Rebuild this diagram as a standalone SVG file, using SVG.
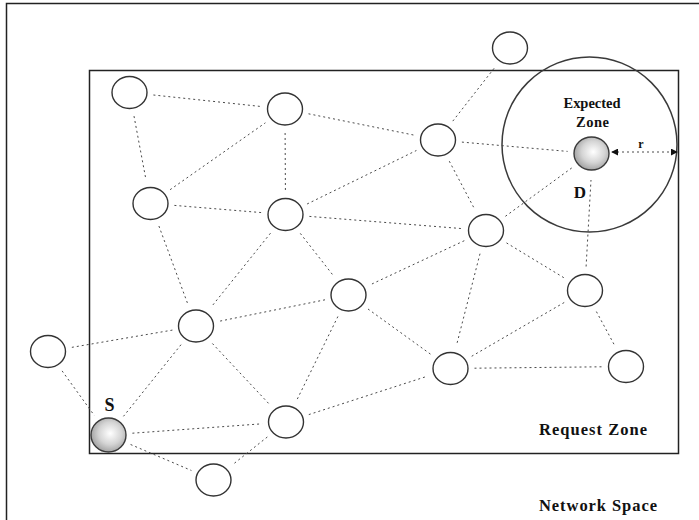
<svg xmlns="http://www.w3.org/2000/svg" width="699" height="520" viewBox="0 0 699 520">
  <defs>
    <radialGradient id="shade" cx="55%" cy="45%" r="60%">
      <stop offset="0" stop-color="#ffffff"/>
      <stop offset="0.55" stop-color="#d4d4d4"/>
      <stop offset="1" stop-color="#9a9a9a"/>
    </radialGradient>
    <marker id="tip" viewBox="0 0 8 8" refX="7" refY="4" markerWidth="7" markerHeight="7" orient="auto-start-reverse" markerUnits="userSpaceOnUse">
      <path d="M0,0 L8,4 L0,8 Z" fill="#111"/>
    </marker>
  </defs>
  <style>
    .frame { fill: none; stroke: #222; stroke-width: 1.5; }
    .zone { fill: none; stroke: #3a3a3a; stroke-width: 1.5; }
    .node { fill: #fff; stroke: #333; stroke-width: 1.4; }
    .key { fill: url(#shade); stroke: #3a3a3a; stroke-width: 1.4; }
    .link { stroke: #4a4a4a; stroke-width: 1; stroke-dasharray: 2 3; fill: none; }
    .label { font-family: "Liberation Serif", "Times New Roman", serif; font-weight: bold; fill: #111; text-anchor: middle; }
  </style>

  <rect width="699" height="520" fill="#fff"/>

  <!-- network space border (open to the right and bottom) -->
  <path class="frame" d="M6.5,520 V3.5 H699"/>
  <!-- request zone -->
  <rect class="frame" x="89.5" y="70.5" width="589" height="383"/>
  <!-- expected zone -->
  <circle class="zone" cx="589.5" cy="144.5" r="87.5"/>

  <g id="connectors">
    <line class="link" x1="153.4" y1="95.0" x2="261.1" y2="106.5"/>
    <line class="link" x1="134.0" y1="116.1" x2="146.0" y2="179.9"/>
    <line class="link" x1="170.1" y1="189.7" x2="265.4" y2="122.8"/>
    <line class="link" x1="285.1" y1="133.0" x2="285.4" y2="190.5"/>
    <line class="link" x1="308.5" y1="113.8" x2="414.5" y2="135.2"/>
    <line class="link" x1="174.4" y1="205.4" x2="261.6" y2="212.6"/>
    <line class="link" x1="158.9" y1="226.0" x2="187.6" y2="303.5"/>
    <line class="link" x1="270.5" y1="233.2" x2="211.0" y2="307.3"/>
    <line class="link" x1="300.3" y1="233.4" x2="333.7" y2="276.1"/>
    <line class="link" x1="307.1" y1="204.0" x2="416.4" y2="150.5"/>
    <line class="link" x1="309.4" y1="216.4" x2="462.1" y2="228.6"/>
    <line class="link" x1="452.8" y1="121.1" x2="495.2" y2="66.9"/>
    <line class="link" x1="461.9" y1="142.1" x2="567.6" y2="151.4"/>
    <line class="link" x1="449.3" y1="161.2" x2="474.7" y2="209.3"/>
    <line class="link" x1="505.4" y1="216.3" x2="572.1" y2="167.7"/>
    <line class="link" x1="464.3" y1="240.7" x2="370.2" y2="284.8"/>
    <line class="link" x1="480.0" y1="253.7" x2="456.5" y2="345.3"/>
    <line class="link" x1="506.5" y1="242.9" x2="564.5" y2="278.1"/>
    <line class="link" x1="586.1" y1="266.5" x2="591.0" y2="180.0"/>
    <line class="link" x1="564.2" y1="302.5" x2="471.3" y2="356.5"/>
    <line class="link" x1="596.4" y1="311.6" x2="614.6" y2="345.4"/>
    <line class="link" x1="474.5" y1="368.2" x2="602.0" y2="366.8"/>
    <line class="link" x1="368.0" y1="309.0" x2="431.0" y2="354.5"/>
    <line class="link" x1="325.0" y1="299.8" x2="219.5" y2="321.2"/>
    <line class="link" x1="337.9" y1="316.5" x2="296.6" y2="400.5"/>
    <line class="link" x1="212.4" y1="343.5" x2="269.6" y2="404.5"/>
    <line class="link" x1="181.0" y1="344.7" x2="123.5" y2="416.3"/>
    <line class="link" x1="172.4" y1="330.1" x2="71.6" y2="347.4"/>
    <line class="link" x1="62.1" y1="370.9" x2="94.4" y2="415.6"/>
    <line class="link" x1="132.4" y1="433.2" x2="262.1" y2="423.8"/>
    <line class="link" x1="130.6" y1="444.5" x2="191.4" y2="470.5"/>
    <line class="link" x1="308.8" y1="414.6" x2="427.7" y2="376.1"/>
    <line class="link" x1="267.3" y1="437.0" x2="232.2" y2="465.0"/>
    <!-- radius r of the expected zone -->
    <line class="link" x1="612" y1="152" x2="677" y2="152" marker-start="url(#tip)" marker-end="url(#tip)"/>
  </g>

  <g id="n1"><ellipse class="node" cx="129.5" cy="92.5" rx="17.5" ry="16"/></g>
  <g id="n2"><ellipse class="node" cx="285" cy="109" rx="17.5" ry="16"/></g>
  <g id="n3"><ellipse class="node" cx="150.5" cy="203.5" rx="17.5" ry="16"/></g>
  <g id="n4"><ellipse class="node" cx="285.5" cy="214.5" rx="17.5" ry="16"/></g>
  <g id="n5"><ellipse class="node" cx="438" cy="140" rx="17.5" ry="16"/></g>
  <g id="n6"><ellipse class="node" cx="510" cy="48" rx="17.5" ry="16"/></g>
  <g id="n7"><ellipse class="node" cx="486" cy="230.5" rx="17.5" ry="16"/></g>
  <g id="n8"><ellipse class="node" cx="348.5" cy="295" rx="17.5" ry="16"/></g>
  <g id="n9"><ellipse class="node" cx="196" cy="326" rx="17.5" ry="16"/></g>
  <g id="n10"><ellipse class="node" cx="48" cy="351.5" rx="17.5" ry="16"/></g>
  <g id="n11"><ellipse class="node" cx="286" cy="422" rx="17.5" ry="16"/></g>
  <g id="n12"><ellipse class="node" cx="213.5" cy="480" rx="17.5" ry="16"/></g>
  <g id="n13"><ellipse class="node" cx="450.5" cy="368.5" rx="17.5" ry="16"/></g>
  <g id="n14"><ellipse class="node" cx="585" cy="290.5" rx="17.5" ry="16"/></g>
  <g id="n15"><ellipse class="node" cx="626" cy="366.5" rx="17.5" ry="16"/></g>

  <g id="source">
    <ellipse class="key" cx="108.5" cy="435" rx="17.5" ry="17"/>
    <text class="label" x="109.5" y="410.5" font-size="18">S</text>
  </g>
  <g id="destination">
    <ellipse class="key" cx="591.5" cy="153.5" rx="17.5" ry="16.5"/>
    <text class="label" x="580" y="198" font-size="17">D</text>
  </g>

  <g id="labels">
    <text class="label" x="592" y="108" font-size="14.5" textLength="57" lengthAdjust="spacing">Expected</text>
    <text class="label" x="592.5" y="127" font-size="14.5" textLength="33" lengthAdjust="spacing">Zone</text>
    <text class="label" x="641" y="147.5" font-size="12">r</text>
    <text class="label" x="593" y="435" font-size="16.5" textLength="108" lengthAdjust="spacing">Request Zone</text>
    <text class="label" x="598" y="511" font-size="16.5" textLength="118" lengthAdjust="spacing">Network Space</text>
  </g>
</svg>
